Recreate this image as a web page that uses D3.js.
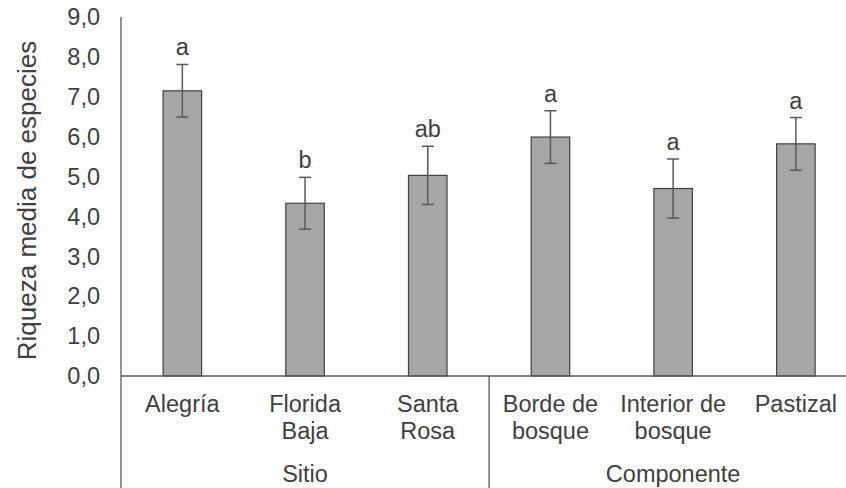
<!DOCTYPE html>
<html>
<head>
<meta charset="utf-8">
<script src="https://cdn.jsdelivr.net/npm/d3@7"></script>
<style>
  html, body { margin: 0; padding: 0; background: #fff; }
  svg { display: block; font-family: "Liberation Sans", Arial, sans-serif; }
</style>
</head>
<body>
<svg id="chart" width="846" height="488"></svg>
<script>
// Mean species richness by site and by landscape component
const categories = ["Alegría", "Florida Baja", "Santa Rosa", "Borde de bosque", "Interior de bosque", "Pastizal"];
const categoryLines = [["Alegría"], ["Florida", "Baja"], ["Santa", "Rosa"], ["Borde de", "bosque"], ["Interior de", "bosque"], ["Pastizal"]];
const groups = ["Sitio", "Componente"];
const groupOf = [0, 0, 0, 1, 1, 1];
const means = [7.15, 4.33, 5.03, 5.99, 4.70, 5.82];
const errors = [0.66, 0.65, 0.73, 0.66, 0.74, 0.66];
const letters = ["a", "b", "ab", "a", "a", "a"];
const yTicks = [0, 1, 2, 3, 4, 5, 6, 7, 8, 9];
const yTitle = "Riqueza media de especies";

const svg = d3.select("#chart");
const left = 121, plotTop = 17, base = 376;
const band = 122.7;
const right = left + band * categories.length;

const x = d3.scaleBand().domain(categories).range([left, right]).paddingInner(0.686).paddingOuter(0.343);
const y = d3.scaleLinear().domain([0, 9]).range([base, plotTop]);

const textCol = "#404040";
const lineCol = "#595959";
const fs = 23.5;

// Y axis labels
const fmt = v => d3.format(".1f")(v).replace(".", ",");
svg.append("g").selectAll("text").data(yTicks).join("text")
  .attr("x", 100).attr("y", d => y(d)).attr("dy", "0.35em")
  .attr("text-anchor", "end").attr("font-size", fs).attr("fill", textCol)
  .text(fmt);

svg.append("text")
  .attr("transform", `translate(${36},${(plotTop + base) / 2 + 4}) rotate(-90)`)
  .attr("text-anchor", "middle")
  .attr("font-size", 26).attr("fill", textCol)
  .text(yTitle);

// Bars
svg.append("g").selectAll("rect").data(categories).join("rect")
  .attr("x", d => x(d)).attr("width", x.bandwidth())
  .attr("y", (d, i) => y(means[i])).attr("height", (d, i) => base - y(means[i]))
  .attr("fill", "#a6a6a6").attr("stroke", "#404040").attr("stroke-width", 1.2);

// Error bars
const eg = svg.append("g").attr("stroke", lineCol).attr("stroke-width", 1.5);
categories.forEach((c, i) => {
  const cx = x(c) + x.bandwidth() / 2;
  const hi = y(means[i] + errors[i]), lo = y(means[i] - errors[i]);
  eg.append("line").attr("x1", cx).attr("x2", cx).attr("y1", hi).attr("y2", lo);
  eg.append("line").attr("x1", cx - 6).attr("x2", cx + 6).attr("y1", hi).attr("y2", hi);
  eg.append("line").attr("x1", cx - 6).attr("x2", cx + 6).attr("y1", lo).attr("y2", lo);
});

// Significance letters
svg.append("g").selectAll("text").data(categories).join("text")
  .attr("x", d => x(d) + x.bandwidth() / 2)
  .attr("y", (d, i) => y(means[i] + errors[i]) - 9)
  .attr("text-anchor", "middle").attr("font-size", fs).attr("fill", textCol)
  .text((d, i) => letters[i]);

// Axes lines
const ax = svg.append("g").attr("stroke", lineCol).attr("stroke-width", 1.3);
ax.append("line").attr("x1", left).attr("x2", left).attr("y1", plotTop).attr("y2", 488);
ax.append("line").attr("x1", left).attr("x2", right).attr("y1", base).attr("y2", base);
// Group dividers
[3, 6].forEach(k => {
  const gx = left + band * k;
  ax.append("line").attr("x1", gx).attr("x2", gx).attr("y1", base).attr("y2", 488);
});

// Category labels
const cl = svg.append("g").attr("font-size", fs).attr("fill", textCol).attr("text-anchor", "middle");
categories.forEach((c, i) => {
  const t = cl.append("text").attr("x", x(c) + x.bandwidth() / 2).attr("y", 411.5);
  categoryLines[i].forEach((ln, j) => {
    t.append("tspan").attr("x", x(c) + x.bandwidth() / 2).attr("dy", j === 0 ? 0 : 27.5).text(ln);
  });
});

// Group labels
groups.forEach((g, k) => {
  const idx = groupOf.map((v, i) => v === k ? i : -1).filter(i => i >= 0);
  const a = x(categories[idx[0]]), b = x(categories[idx[idx.length - 1]]) + x.bandwidth();
  svg.append("text").attr("x", (a + b) / 2).attr("y", 482)
    .attr("text-anchor", "middle").attr("font-size", fs).attr("fill", textCol).text(g);
});
</script>
</body>
</html>
